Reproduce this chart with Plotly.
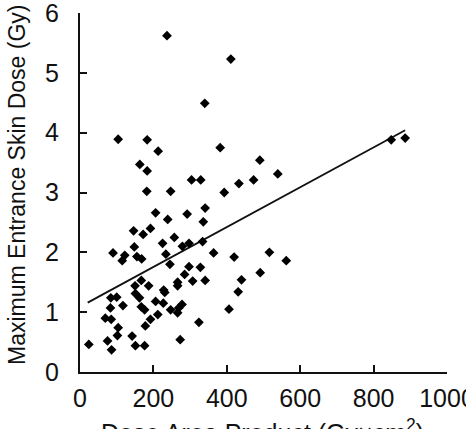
import plotly.graph_objects as go

# Dose Area Product (Gy x cm^2)
dap = [237, 411, 340, 104, 183, 213, 382, 163, 183, 490,
       304, 329, 433, 473, 182, 247, 393, 539, 848, 886,
       516, 562, 491, 206, 292, 341, 239, 336, 192, 146,
       172, 257, 225, 148, 279, 297, 334, 90, 234, 122,
       115, 155, 168, 364, 420, 245, 297, 328, 285, 440,
       307, 341, 167, 266, 266, 150, 187, 228, 231, 431,
       151, 162, 84, 100, 117, 206, 227, 83, 167, 176,
       278, 269, 247, 266, 212, 192, 406, 69, 85, 104,
       178, 324, 102, 142, 75, 273, 24, 151, 176, 86]

# Maximum Entrance Skin Dose (Gy)
esd = [5.62, 5.23, 4.49, 3.89, 3.88, 3.69, 3.75, 3.47, 3.36, 3.54,
       3.21, 3.21, 3.15, 3.21, 3.02, 3.02, 3.00, 3.31, 3.88, 3.91,
       2.00, 1.86, 1.66, 2.66, 2.64, 2.74, 2.55, 2.51, 2.40, 2.36,
       2.30, 2.25, 2.15, 2.09, 2.10, 2.15, 2.18, 1.99, 1.97, 1.95,
       1.86, 1.93, 1.89, 1.99, 1.92, 1.80, 1.76, 1.75, 1.63, 1.54,
       1.52, 1.53, 1.53, 1.50, 1.44, 1.44, 1.44, 1.37, 1.33, 1.34,
       1.31, 1.24, 1.24, 1.25, 1.11, 1.18, 1.15, 1.07, 1.09, 1.04,
       1.13, 1.07, 1.04, 0.99, 0.96, 0.88, 1.05, 0.90, 0.88, 0.74,
       0.77, 0.83, 0.61, 0.60, 0.52, 0.54, 0.46, 0.44, 0.44, 0.37]

# Regression line end points
fit_x = [21, 886]
fit_y = [1.16, 4.04]

x_ticks = [0, 200, 400, 600, 800, 1000]
y_ticks = [0, 1, 2, 3, 4, 5, 6]

FONT = "Liberation Sans, Arial, sans-serif"

fig = go.Figure()
fig.add_trace(go.Scatter(x=fit_x, y=fit_y, mode="lines",
                         line=dict(color="#111111", width=1.8),
                         showlegend=False, hoverinfo="skip"))
fig.add_trace(go.Scatter(x=dap, y=esd, mode="markers",
                         marker=dict(symbol="diamond", size=7.5, color="black",
                                     line=dict(width=0)),
                         showlegend=False))

axis_common = dict(showgrid=False, zeroline=False, showline=True,
                   linecolor="#111111", linewidth=2, ticks="inside",
                   ticklen=7, tickwidth=2, tickcolor="#111111",
                   ticklabeloverflow="allow",
                   tickfont=dict(family=FONT, size=25, color="#111111"))

fig.update_layout(
    width=466, height=429,
    margin=dict(l=80, r=19, t=13, b=57, autoexpand=False),
    paper_bgcolor="white", plot_bgcolor="white",
    xaxis=dict(range=[0, 1000], tickvals=x_ticks, ticklabelstandoff=3,
               **axis_common),
    yaxis=dict(range=[0, 6], tickvals=y_ticks, ticklabelstandoff=14,
               **axis_common),
    annotations=[
        dict(text="Maximum Entrance Skin Dose (Gy)", xref="paper", yref="paper",
             x=-0.1717, y=0.521, xanchor="center", yanchor="middle",
             textangle=-90, showarrow=False,
             font=dict(family=FONT, size=23, color="#111111")),
        dict(text="Dose Area Product (Gy×cm<sup>2</sup>)", xref="paper", yref="paper",
             x=0.4986, y=-0.113, xanchor="center", yanchor="top",
             showarrow=False,
             font=dict(family=FONT, size=25, color="#111111")),
    ],
)

fig.write_html("out.html")
